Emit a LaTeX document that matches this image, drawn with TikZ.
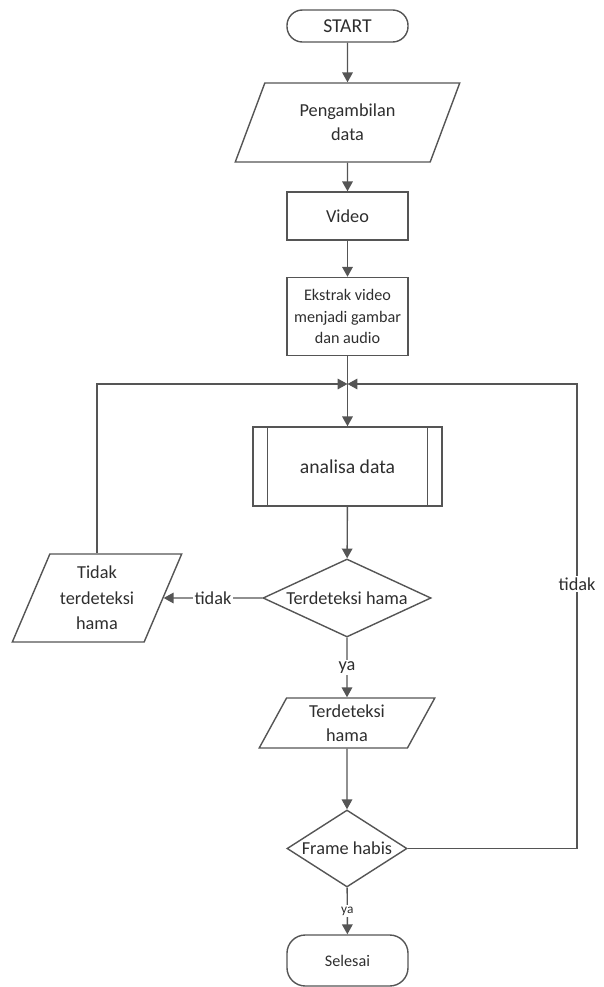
\documentclass[tikz,border=0pt]{standalone}
\usepackage{fontspec}
\setmainfont{Carlito}
\usetikzlibrary{arrows.meta,shapes.geometric}
\definecolor{garis}{HTML}{555555}
\definecolor{teks}{HTML}{2E2E2E}

\begin{document}
\begin{tikzpicture}[x=0.025cm,y=-0.025cm,
    every node/.style={text=teks,font=\fontsize{13}{17}\selectfont},
    alur/.style={draw=garis,line width=1pt},
    panah/.style={alur,-{Triangle[length=7pt,width=7.5pt]}},
    terminal/.style={alur,rounded corners=11pt,minimum width=3.025cm,minimum height=0.8cm,inner sep=0pt},
    proses/.style={alur,minimum width=3.025cm,inner sep=0pt,align=center},
    masukan/.style={alur,trapezium,trapezium left angle=65,trapezium right angle=115,
      trapezium stretches=true,inner sep=0pt,align=center},
    keputusan/.style={alur,diamond,inner sep=0pt},
    label/.style={fill=white,inner sep=1pt}]
    \useasboundingbox (0,0) rectangle (604,987);
    % alur utama
    \draw
    (347.5,26) node[terminal,font=\fontsize{14}{17}\selectfont](mulai) {START}
    (347.5,122.5) node[masukan,minimum width=5.625cm,minimum height=1.975cm](ambil) {Pengambilan\\data}
    (347.5,216) node[proses,minimum height=1.2cm](video) {Video}
    (347.5,316.5) node[proses,minimum height=1.95cm,font=\fontsize{11.5}{15.5}\selectfont](ekstrak) {Ekstrak video\\menjadi gambar\\dan audio}
    (347.5,466.5) node[proses,minimum width=4.725cm,minimum height=1.975cm,font=\fontsize{14}{17}\selectfont](analisa) {analisa data}
    (347,598) node[keputusan,minimum width=4.2cm,minimum height=1.95cm](deteksi) {\makebox[0pt]{Terdeteksi hama}}
    (97,598) node[masukan,minimum width=4.25cm,minimum height=2.2cm,font=\fontsize{13}{18}\selectfont](tidakhama) {Tidak\\terdeteksi\\hama}
    (347,723) node[masukan,minimum width=4.425cm,minimum height=1.25cm](hama) {Terdeteksi\\hama}
    (347,848.5) node[keputusan,minimum width=3cm,minimum height=1.925cm](frame) {\makebox[0pt]{Frame habis}}
    (347.5,960.5) node[terminal,rounded corners=13pt,minimum height=1.275cm,font=\fontsize{11.5}{14}\selectfont](selesai) {Selesai};
    \draw[alur]
    ([xshift=0.375cm]analisa.north west) -- ([xshift=0.375cm]analisa.south west)
    ([xshift=-0.375cm]analisa.north east) -- ([xshift=-0.375cm]analisa.south east);
    \coordinate (temu) at (347.5,384);
    \coordinate (kanan) at (577,384);
    % panah
    \draw[panah] (mulai) -- (ambil);
    \draw[panah] (ambil) -- (video);
    \draw[panah] (video) -- (ekstrak);
    \draw[panah] (ekstrak) -- (analisa);
    \draw[panah] (analisa) -- (deteksi);
    \draw[panah] (deteksi) -- node[label]{tidak} (tidakhama);
    \draw[panah] (deteksi) -- node[label]{ya} (hama);
    \draw[panah] (hama) -- (frame);
    \draw[panah] (frame) -- node[label,font=\fontsize{9.5}{11}\selectfont]{ya} (selesai);
    \draw[panah] (tidakhama.north) |- (temu);
    \draw[panah] (frame.east) -- (frame.east -| kanan) -- node[label,pos=0.57]{tidak} (kanan) -- (temu);
\end{tikzpicture}
\end{document}
